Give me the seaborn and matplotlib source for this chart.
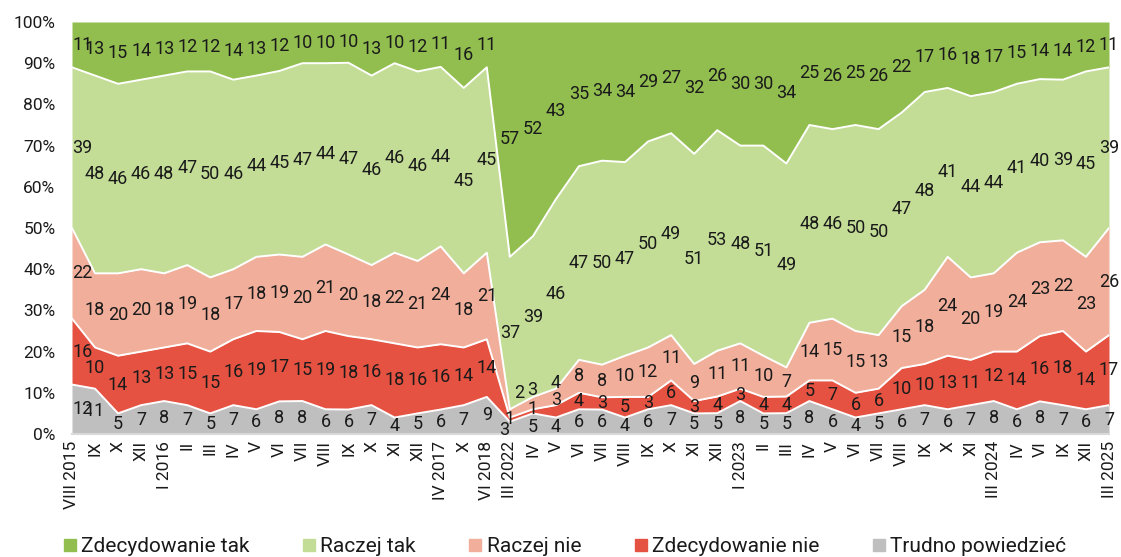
import numpy as np
import pandas as pd
import matplotlib
matplotlib.use("Agg")
import matplotlib.pyplot as plt
from matplotlib.lines import Line2D
import seaborn as sns

periods = ["VIII 2015", "IX", "X", "XII", "I 2016", "II", "III", "IV", "V", "VI", "VII", "VIII",
           "IX", "X", "XI", "XII", "IV 2017", "X", "VI 2018", "III 2022", "IV", "V", "VI", "VII",
           "VIII", "IX", "X", "XI", "XII", "I 2023", "II", "III", "IV", "V", "VI", "VII", "VIII",
           "IX", "X", "XI", "III 2024", "IV", "VI", "IX", "XII", "III 2025"]

zdecydowanie_tak = [11, 13, 15, 14, 13, 12, 12, 14, 13, 12, 10, 10, 10, 13, 10, 12, 11, 16, 11,
                    57, 52, 43, 35, 34, 34, 29, 27, 32, 26, 30, 30, 34, 25, 26, 25, 26, 22, 17,
                    16, 18, 17, 15, 14, 14, 12, 11]
raczej_tak = [39, 48, 46, 46, 48, 47, 50, 46, 44, 45, 47, 44, 47, 46, 46, 46, 44, 45, 45,
              37, 39, 46, 47, 50, 47, 50, 49, 51, 53, 48, 51, 49, 48, 46, 50, 50, 47, 48,
              41, 44, 44, 41, 40, 39, 45, 39]
raczej_nie = [22, 18, 20, 20, 18, 19, 18, 17, 18, 19, 20, 21, 20, 18, 22, 21, 24, 18, 21,
              2, 3, 4, 8, 8, 10, 12, 11, 9, 11, 11, 10, 7, 14, 15, 15, 13, 15, 18,
              24, 20, 19, 24, 23, 22, 23, 26]
zdecydowanie_nie = [16, 10, 14, 13, 13, 15, 15, 16, 19, 17, 15, 19, 18, 16, 18, 16, 16, 14, 14,
                    1, 1, 3, 4, 3, 5, 3, 6, 3, 4, 3, 4, 4, 5, 7, 6, 6, 10, 10,
                    13, 11, 12, 14, 16, 18, 14, 17]
trudno = [12, 11, 5, 7, 8, 7, 5, 7, 6, 8, 8, 6, 6, 7, 4, 5, 6, 7, 9,
          3, 5, 4, 6, 6, 4, 6, 7, 5, 5, 8, 5, 5, 8, 6, 4, 5, 6, 7,
          6, 7, 8, 6, 8, 7, 6, 7]

series_names = ["Zdecydowanie tak", "Raczej tak", "Raczej nie", "Zdecydowanie nie", "Trudno powiedzieć"]
colors = ["#92BE50", "#C3DD97", "#F1AF9B", "#E55242", "#BFBFBF"]

sns.set_theme(style="white")
plt.rcParams["font.family"] = ["Roboto", "DejaVu Sans"]

# stacking order bottom -> top
stack_vals = [trudno, zdecydowanie_nie, raczej_nie, raczej_tak, zdecydowanie_tak]
stack_cols = [colors[4], colors[3], colors[2], colors[1], colors[0]]
arr = np.array(stack_vals, dtype=float)
arr = arr / arr.sum(axis=0) * 100.0
cum = np.vstack([np.zeros(arr.shape[1]), np.cumsum(arr, axis=0)])
x = np.arange(len(periods))

# label nudges for crowded thin segments: (layer, index) -> (x, y)
nudges = {(0, 19): (18.75, 1.0), (1, 19): (19.0, 3.6), (2, 19): (19.4, 10.0),
          (1, 20): (20.0, 6.0), (2, 20): (19.95, 10.8), (0, 20): (20.0, 1.6),
          (1, 21): (21.0, 8.2), (2, 21): (21.0, 12.4), (0, 21): (21.0, 1.7)}

fig = plt.figure(figsize=(11.21, 5.57), dpi=100)
ax = fig.add_axes([72 / 1121, 1 - 434 / 557, (1109 - 72) / 1121, (434 - 22) / 557])

for i in range(arr.shape[0]):
    ax.fill_between(x, cum[i], cum[i + 1], color=stack_cols[i], linewidth=0, zorder=1)

# white boundaries between layers
bnd = pd.DataFrame({"x": np.tile(x, 4), "y": cum[1:5].ravel(),
                    "b": np.repeat(np.arange(4), len(x))})
sns.lineplot(data=bnd, x="x", y="y", units="b", estimator=None, color="white",
             linewidth=1.4, ax=ax, zorder=2, legend=False)

# data labels
for i in range(arr.shape[0]):
    raw = stack_vals[i]
    for j in range(len(x)):
        xc = x[j]
        yc = (cum[i][j] + cum[i + 1][j]) / 2
        if (i, j) in nudges:
            xc, yc = nudges[(i, j)]
        ha = "left" if j == 0 else "center"
        ax.text(xc, yc, str(raw[j]), ha=ha, va="center", fontsize=13,
                color="#1a1a1a", zorder=3, clip_on=False)

ax.set_xlim(0, len(x) - 1)
ax.set_ylim(0, 100)
ax.set_yticks(np.arange(0, 101, 10))
ax.set_yticklabels([f"{v}%" for v in range(0, 101, 10)], fontsize=12.5, color="#1a1a1a")
ax.set_xticks(x)
ax.set_xticklabels(periods, rotation=90, fontsize=12.5, color="#1a1a1a")
ax.tick_params(axis="x", length=3, color="#d0d0d0", pad=2)
ax.tick_params(axis="y", length=0, pad=12)
ax.set_xlabel("")
ax.set_ylabel("")
for s in ["top", "right", "left"]:
    ax.spines[s].set_visible(False)
ax.spines["bottom"].set_color("#d9d9d9")
ax.spines["bottom"].set_linewidth(1.5)
ax.grid(False)

handles = [Line2D([0], [0], marker="s", linestyle="", markersize=9, markerfacecolor=c,
                  markeredgecolor=c) for c in colors]
fig.legend(handles, series_names, loc="center left", bbox_to_anchor=(55 / 1121, 1 - 547 / 557),
           ncol=5, frameon=False, fontsize=15, handletextpad=0.25, columnspacing=2.55,
           handlelength=0.6, borderaxespad=0, labelcolor="#1a1a1a")

fig.savefig("out.png", dpi=100)
